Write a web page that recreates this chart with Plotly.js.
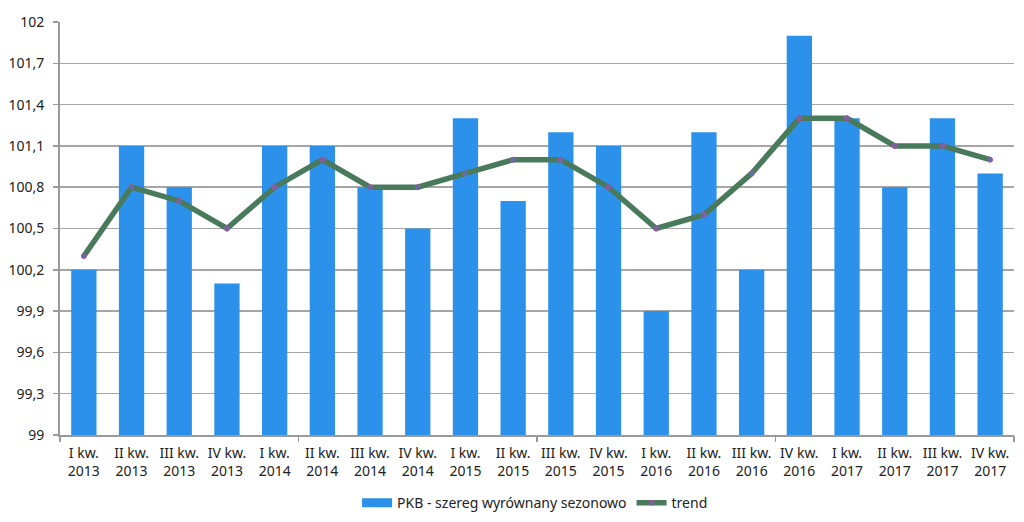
<!DOCTYPE html>
<html><head><meta charset="utf-8">
<script src="https://cdn.plot.ly/plotly-3.0.1.min.js"></script>
<style>html,body{margin:0;padding:0;background:#fff}#c{width:1024px;height:522px}</style>
</head><body><div id="c"></div>
<script>
const categories = ["I kw.<br>2013","II kw.<br>2013","III kw.<br>2013","IV kw.<br>2013",
 "I kw.<br>2014","II kw.<br>2014","III kw.<br>2014","IV kw.<br>2014",
 "I kw.<br>2015","II kw.<br>2015","III kw.<br>2015","IV kw.<br>2015",
 "I kw.<br>2016","II kw.<br>2016","III kw.<br>2016","IV kw.<br>2016",
 "I kw.<br>2017","II kw.<br>2017","III kw.<br>2017","IV kw.<br>2017"];
const pkb = [100.2,101.1,100.8,100.1,101.1,101.1,100.8,100.5,101.3,100.7,101.2,101.1,99.9,101.2,100.2,101.9,101.3,100.8,101.3,100.9];
const trend = [100.3,100.8,100.7,100.5,100.8,101.0,100.8,100.8,100.9,101.0,101.0,100.8,100.5,100.6,100.9,101.3,101.3,101.1,101.1,101.0];
const yTicks = [99,99.3,99.6,99.9,100.2,100.5,100.8,101.1,101.4,101.7,102];
const yTickText = yTicks.map(v => String(v).replace('.', ','));
const groupTicks = [-0.5,4.5,9.5,14.5,19.5];

const barColor = '#2b91ea';
const font = {family:"Noto Sans, Open Sans, sans-serif", size:14, color:"#222"};
const data = [
 {type:'bar', x:categories, y:pkb, name:'PKB - szereg wyrównany sezonowo',
  marker:{color:barColor}, showlegend:false, hoverinfo:'y'},
 {type:'scatter', mode:'lines', x:[null], y:[null], name:'PKB - szereg wyrównany sezonowo',
  line:{color:barColor, width:9}},
 {type:'scatter', mode:'lines+markers', x:categories, y:trend, name:'trend',
  line:{color:'#4a7a5c', width:5.5},
  marker:{symbol:'circle', size:5, color:'#5b6fa8', line:{color:'#b0509a', width:1}}},
 {type:'scatter', x:[-0.5,19.5], y:[99,99], xaxis:'x2', mode:'lines', line:{width:0}, showlegend:false, hoverinfo:'skip'}
];
const layout = {
 width:1024, height:522, margin:{l:60,r:10,t:22,b:87},
 paper_bgcolor:'#fff', plot_bgcolor:'#fff', font:font,
 bargap:0.47,
 xaxis:{type:'category', tickfont:{size:14,color:'#222'}, showline:true, linecolor:'#9a9a9a', linewidth:2,
        ticks:'', showgrid:false, range:[-0.5,19.5], fixedrange:true, ticklabelstandoff:4, automargin:false},
 xaxis2:{overlaying:'x', range:[-0.5,19.5], tickvals:groupTicks, ticks:'outside', ticklen:6, tickwidth:1.5,
        tickcolor:'#9a9a9a', showticklabels:false, showgrid:false, zeroline:false, side:'bottom', anchor:'y', automargin:false},
 yaxis:{range:[99,102], tickvals:yTicks, ticktext:yTickText, showgrid:true, gridcolor:'#a6a6a6', gridwidth:1.5,
        showline:true, linecolor:'#9a9a9a', linewidth:2, ticks:'outside', ticklen:5, tickcolor:'#9a9a9a', tickwidth:1.5,
        zeroline:false, tickfont:{size:14,color:'#222'}, ticklabelstandoff:6, automargin:false},
 showlegend:true,
 legend:{orientation:'h', x:0.498, xanchor:'center', yref:'container', y:0.036, yanchor:'middle', font:{size:14,color:'#222'}, itemwidth:30, traceorder:'normal'}
};
Plotly.newPlot('c', data, layout, {staticPlot:true});
</script></body></html>
